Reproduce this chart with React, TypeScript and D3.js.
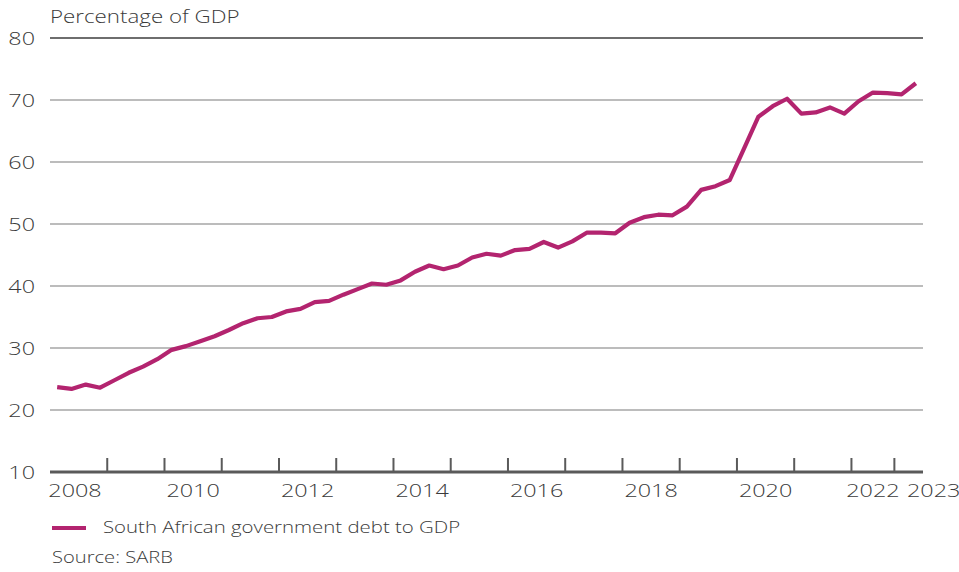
import React from "react";
import * as d3 from "d3";

const years = ["2008","2009","2010","2011","2012","2013","2014","2015","2016","2017","2018","2019","2020","2021","2022","2023"];
const quartersPerYear = [4,4,4,4,4,4,4,4,4,4,4,4,4,4,3,2];
const yearLabels = ["2008","","2010","","2012","","2014","","2016","","2018","","2020","","2022","2023"];
const debtToGdp = [
  23.7, 23.4, 24.1, 23.6, 24.8, 26.0, 27.0, 28.2, 29.7, 30.3,
  31.1, 31.9, 32.9, 34.0, 34.8, 35.0, 35.9, 36.3, 37.4, 37.6,
  38.6, 39.5, 40.4, 40.2, 40.9, 42.3, 43.3, 42.7, 43.3, 44.6,
  45.2, 44.9, 45.8, 46.0, 47.1, 46.2, 47.2, 48.6, 48.6, 48.5,
  50.2, 51.1, 51.5, 51.4, 52.8, 55.5, 56.1, 57.1, 62.2, 67.3,
  69.0, 70.2, 67.8, 68.0, 68.8, 67.8, 69.8, 71.2, 71.1, 70.9,
  72.7,
];
const yTicks = [10, 20, 30, 40, 50, 60, 70, 80];

const W = 959, H = 572;
const FONT = "'Open Sans', 'Liberation Sans', sans-serif";
const TEXT = "#3a3a3a";
const LINE = "#b3246f";

function T(props: { x: number; y: number; sx?: number; size?: number; anchor?: string; children: React.ReactNode }) {
  const { x, y, sx = 1.27, size = 18, anchor = "start", children } = props;
  return (
    <text
      transform={`translate(${x},${y}) scale(${sx},1)`}
      textAnchor={anchor}
      fontFamily={FONT}
      fontSize={size}
      fontWeight={300}
      fill={TEXT}
    >
      {children}
    </text>
  );
}

export default function App() {
  const cats: string[] = [];
  years.forEach((y, i) => {
    for (let q = 0; q < quartersPerYear[i]; q++) cats.push(`${y}Q${q + 1}`);
  });
  const x = d3.scaleBand<string>().domain(cats).range([50, 923]).padding(0);
  const y = d3.scaleLinear().domain([10, 80]).range([472, 38]);
  const bw = x.bandwidth();
  const line = d3
    .line<number>()
    .x((_, i) => (x(cats[i]) as number) + bw / 2)
    .y((d) => y(d));

  const groups: { start: number; end: number; label: string }[] = [];
  let idx = 0;
  years.forEach((yr, i) => {
    const s = idx;
    idx += quartersPerYear[i];
    groups.push({ start: x(cats[s]) as number, end: (x(cats[idx - 1]) as number) + bw, label: yearLabels[i] });
  });

  return (
    <svg width={W} height={H} style={{ position: "absolute", left: 0, top: 0, background: "#fff" }}>
      <T x={50} y={23} sx={1.24}>Percentage of GDP</T>
      {yTicks.map((t) => (
        <g key={t}>
          {t !== 10 && (
            <line
              x1={50}
              x2={923}
              y1={y(t)}
              y2={y(t)}
              stroke={t === 80 ? "#6e6e6e" : "#a6a6a6"}
              strokeWidth={t === 80 ? 2 : 1.5}
            />
          )}
          <T x={35} y={y(t) + 6.5} anchor="end" sx={1.3}>{t}</T>
        </g>
      ))}
      <line x1={50} x2={923} y1={y(10)} y2={y(10)} stroke="#5a5a5a" strokeWidth={3} />
      {groups.slice(0, -1).map((g, i) => (
        <line key={i} x1={g.end} x2={g.end} y1={y(10)} y2={y(10) - 14} stroke="#5a5a5a" strokeWidth={2} />
      ))}
      {groups.map((g, i) =>
        g.label ? (
          i === groups.length - 1 ? (
            <T key={i} x={907} y={497} sx={1.3}>{g.label}</T>
          ) : (
            <T key={i} x={i === 0 ? 75 : (g.start + g.end) / 2} y={497} anchor="middle" sx={1.3}>{g.label}</T>
          )
        ) : null
      )}
      <path d={line(debtToGdp) || ""} fill="none" stroke={LINE} strokeWidth={4.2} strokeLinejoin="round" />
      <line x1={52} x2={86} y1={528} y2={528} stroke={LINE} strokeWidth={4} />
      <T x={103} y={533} size={17} sx={1.2}>South African government debt to GDP</T>
      <T x={52} y={563} size={16} sx={1.26}>Source: SARB</T>
    </svg>
  );
}
